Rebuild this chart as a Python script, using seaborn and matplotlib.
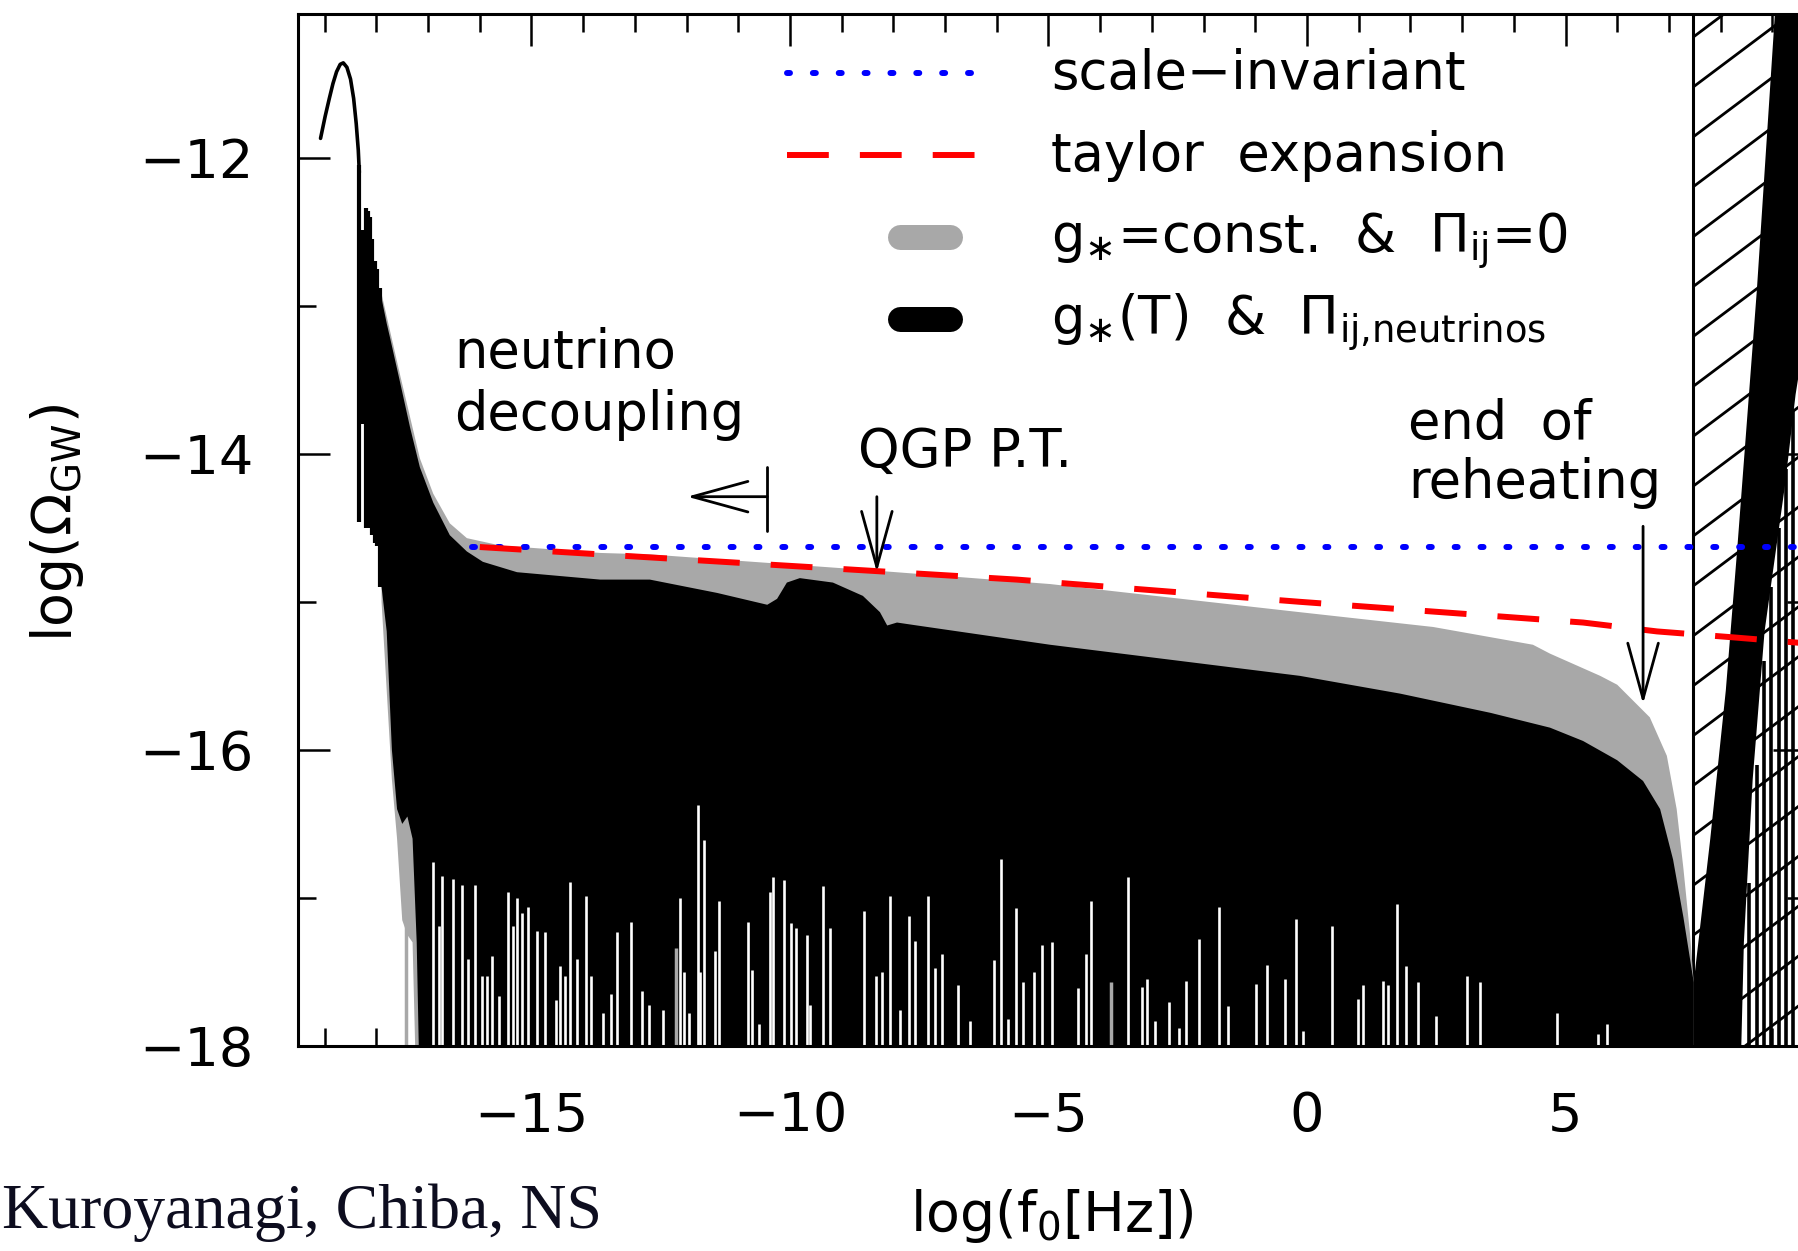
import numpy as np
import matplotlib
matplotlib.use("Agg")
import matplotlib.pyplot as plt
import seaborn as sns
from matplotlib.patches import FancyArrowPatch
from matplotlib.ticker import MultipleLocator

sns.set_theme(style="ticks")
plt.rcParams["font.family"] = ["DejaVu Sans"]
plt.rcParams["mathtext.default"] = "regular"
plt.rcParams["text.color"] = "black"
plt.rcParams["axes.labelcolor"] = "black"

# ---------------- data (log10 f [Hz], log10 Omega_GW) ----------------
# low-frequency peak of the spectrum
peak_x = [-19.08, -18.99, -18.91, -18.84, -18.77, -18.70, -18.64, -18.57, -18.50,
          -18.44, -18.39, -18.35, -18.33]
peak_y = [-11.87, -11.72, -11.60, -11.50, -11.42, -11.37, -11.36, -11.39, -11.47,
          -11.60, -11.77, -11.95, -12.10]

# first resolved oscillations after the peak
forest_x = [-18.33, -18.27, -18.20, -18.17, -18.13, -18.08, -18.02, -17.98, -17.93]
forest_top = [-12.05, -12.49, -12.34, -12.36, -12.40, -12.55, -12.70, -12.75, -12.88]
forest_bottom = [-14.46, -13.80, -14.50, -14.50, -14.50, -14.55, -14.60, -14.62, -14.90]

# envelope of g*(T) & Pi_ij (neutrinos)
black_x = [-17.90, -17.80, -17.74, -17.54, -17.35, -17.16, -16.90, -16.58, -16.25, -15.94,
           -15.28, -13.67, -12.71, -11.41, -10.44, -10.25, -10.06, -9.81, -9.17, -8.59,
           -8.26, -8.12, -7.93, -7.54, -4.97, -0.14, 1.80, 3.55, 4.70, 5.34,
           6.00, 6.50, 6.83, 7.08, 7.28, 7.48]
black_top = [-12.95, -13.12, -13.21, -13.52, -13.82, -14.09, -14.33, -14.55, -14.66, -14.73,
             -14.80, -14.85, -14.85, -14.94, -15.02, -14.98, -14.87, -14.84, -14.87, -14.96,
             -15.07, -15.16, -15.14, -15.16, -15.29, -15.50, -15.62, -15.75, -15.85, -15.94,
             -16.07, -16.21, -16.40, -16.74, -17.13, -17.57]
black_low_x = [-17.90, -17.80, -17.70, -17.60, -17.50, -17.40, -17.30, -17.22, -17.18]
black_low_y = [-14.90, -15.20, -16.00, -16.40, -16.50, -16.45, -16.60, -17.30, -18.00]

# envelope of g* = const. & Pi_ij = 0
gray_x = [-17.90, -17.54, -17.16, -16.90, -16.58, -16.25, -15.60, -13.67, -12.71, -8.32,
          -4.97, -0.14, 2.44, 4.37, 4.70, 5.67, 6.00, 6.63, 6.96, 7.15,
          7.28, 7.41, 7.48]
gray_top = [-12.92, -13.47, -14.03, -14.27, -14.47, -14.57, -14.62, -14.67, -14.68, -14.79,
            -14.88, -15.07, -15.17, -15.29, -15.35, -15.50, -15.56, -15.78, -16.04, -16.40,
            -16.80, -17.25, -17.57]
gray_low_x = [-17.90, -17.70, -17.60, -17.50, -17.40, -17.30, -17.25]
gray_low_y = [-15.00, -16.20, -16.60, -17.15, -17.25, -17.30, -18.00]

# rise above the reheating frequency
wedge_x = [7.48, 7.80, 8.10, 8.32, 8.70, 9.05, 9.632, 9.632, 9.45, 9.25, 8.85, 8.62, 8.45, 8.40, 7.48]
wedge_y = [-17.57, -16.60, -15.60, -14.65, -12.90, -11.03, -11.03, -13.20, -13.60, -14.20,
           -15.20, -16.20, -17.30, -18.00, -18.00]
right_x = [8.55, 8.70, 8.84, 8.98, 9.12, 9.26, 9.40, 9.54]
right_top = [-16.90, -16.10, -15.40, -14.90, -14.50, -14.10, -13.70, -13.40]

# deep troughs of the oscillations
spike_x = [-16.91, -16.79, -16.73, -16.52, -16.34, -16.23, -16.09, -15.96, -15.86, -15.76,
           -15.63, -15.45, -15.36, -15.28, -15.18, -15.07, -14.89, -14.74, -14.53, -14.45,
           -14.35, -14.26, -14.12, -13.95, -13.85,
           -13.62, -13.46, -13.35, -13.08, -12.86, -12.73, -12.46, -12.13, -12.05, -11.96,
           -11.78, -11.74, -11.66, -11.45, -11.37, -10.81, -10.74, -10.60, -10.39, -10.33,
           -10.12, -9.98, -9.89, -9.67, -9.61, -9.36, -9.23, -8.57, -8.34, -8.22,
           -8.07, -7.87, -7.70, -7.58, -7.33, -7.20, -7.06, -6.75, -6.52, -6.05,
           -5.92, -5.78, -5.63, -5.49, -5.28, -5.13, -4.93, -4.43, -4.27, -4.18,
           -3.46, -3.19, -3.09, -2.94, -2.67, -2.48, -2.34, -2.09,
           -1.70, -1.53, -0.99, -0.77, -0.43, -0.21, -0.08, 0.48, 0.99, 1.08,
           1.47, 1.57, 1.74, 1.91, 2.15, 2.50, 3.09, 3.35, 4.84, 5.63, 5.80]
spike_top = [-16.76, -17.19, -16.85, -16.87, -16.91, -17.41, -16.91, -17.53, -17.53, -17.39,
             -17.66, -16.96, -17.19, -17.00, -17.10, -17.06, -17.22, -17.23, -17.69, -17.46,
             -17.53, -16.89, -17.41, -16.99, -17.53,
             -17.78, -17.65, -17.23, -17.16, -17.63, -17.72, -17.76, -17.00, -17.50, -17.78,
             -16.37, -17.50, -16.61, -17.36, -17.02, -17.16, -17.49, -17.85, -16.96, -16.86,
             -16.88, -17.17, -17.20, -17.25, -17.72, -16.92, -17.20, -17.09, -17.53, -17.50,
             -16.99, -17.76, -17.12, -17.29, -16.99, -17.47, -17.38, -17.59, -17.83, -17.42,
             -16.74, -17.82, -17.07, -17.57, -17.50, -17.32, -17.30, -17.61, -17.38, -17.02,
             -16.86, -17.60, -17.55, -17.83, -17.70, -17.88, -17.56, -17.28,
             -17.06, -17.73, -17.58, -17.45, -17.55, -17.14, -17.90, -17.19, -17.68, -17.59,
             -17.56, -17.59, -17.04, -17.46, -17.57, -17.80, -17.53, -17.57, -17.78, -17.92, -17.85]
gray_spike_x = [-17.43, -12.20, -3.79]
gray_spike_top = [-17.10, -17.34, -17.57]

# analytic approximations
flat_x = [-16.15, 9.632]
flat_y = [-14.63, -14.63]
taylor_x = [-16.00, -12.71, -8.45, -5.61, -0.14, 5.34, 6.77, 8.24, 9.632]
taylor_y = [-14.63, -14.70, -14.79, -14.85, -15.00, -15.14, -15.20, -15.24, -15.28]

reheat_cut = 7.47

legend_labels = ["scale\u2212invariant", "taylor  expansion",
                 "g$_{\\ast}$=const.  &  \u03a0$_{ij}$=0",
                 "g$_{\\ast}$(T)  &  \u03a0$_{ij{,}neutrinos}$"]

GRAY = "#a8a8a8"

# ---------------- figure ----------------
fig = plt.figure(figsize=(17.98, 12.51), dpi=100)
ax = fig.add_axes([0.16574, 0.16387, 0.83815, 0.82494])
ax.set_xlim(-19.516, 9.632)
ax.set_ylim(-18.0, -11.03)

# excluded region above the reheating frequency
hatch_slope = 0.262
for c in np.arange(-18.6, -10.9, 0.337):
    ax.plot([reheat_cut, 9.632], [c, c + hatch_slope * (9.632 - reheat_cut)],
            color="black", lw=2.0, zorder=1, solid_capstyle="butt")
ax.axvline(reheat_cut, color="black", lw=2.2, zorder=1)

# filled envelopes
gx = gray_x + [7.48] + gray_low_x[::-1]
gy = gray_top + [-18.0] + gray_low_y[::-1]
ax.fill(gx, gy, color=GRAY, lw=0, zorder=2)
bx = black_x + [7.48] + black_low_x[::-1]
by = black_top + [-18.0] + black_low_y[::-1]
ax.fill(bx, by, color="black", lw=0, zorder=3)
ax.fill(wedge_x, wedge_y, color="black", lw=0, zorder=3)
ax.vlines(forest_x, forest_bottom, forest_top, color="black", lw=3.0, zorder=3)
ax.vlines(right_x, -18.0, right_top, color="black", lw=2.6, zorder=3)

ax.vlines(spike_x, -18.0, spike_top, color="white", lw=1.9, zorder=4)
ax.vlines(gray_spike_x, -18.0, gray_spike_top, color=GRAY, lw=2.5, zorder=4)

sns.lineplot(x=peak_x, y=peak_y, ax=ax, color="black", lw=2.6, sort=False,
             estimator=None, zorder=4)
sns.lineplot(x=flat_x, y=flat_y, ax=ax, color="#0000ff", lw=4.3, sort=False,
             estimator=None, linestyle=(0, (0.5, 3.83)), dash_capstyle="round", zorder=6)
sns.lineplot(x=taylor_x, y=taylor_y, ax=ax, color="#ff0000", lw=4.3, sort=False,
             estimator=None, linestyle=(0, (7.0, 5.2)), zorder=6)

# annotations
arrow_style = "->,head_length=4.0,head_width=1.1"
def arrow(p0, p1):
    ax.add_patch(FancyArrowPatch(p0, p1, arrowstyle=arrow_style, mutation_scale=10,
                                 lw=2.0, color="black", shrinkA=0, shrinkB=0, zorder=7))

ax.plot([-10.44, -10.44], [-14.09, -14.52], color="black", lw=2.0, zorder=7)
arrow((-10.44, -14.29), (-11.99, -14.29))
arrow((-8.32, -14.29), (-8.32, -14.80))
arrow((6.50, -14.49), (6.50, -15.69))

TXT = 38
ax.text(-16.5, -13.42, "neutrino", fontsize=TXT, va="baseline", ha="left", zorder=8)
ax.text(-16.5, -13.84, "decoupling", fontsize=TXT, va="baseline", ha="left", zorder=8)
ax.text(-8.68, -14.09, "QGP P.T.", fontsize=TXT, va="baseline", ha="left", zorder=8)
ax.text(1.96, -13.90, "end  of", fontsize=TXT, va="baseline", ha="left", zorder=8)
ax.text(1.96, -14.30, "reheating", fontsize=TXT, va="baseline", ha="left", zorder=8)

# key
tr = ax.transAxes
ax.plot([0.3245, 0.4492], [0.9428, 0.9428], transform=tr, color="#0000ff", lw=4.3,
        linestyle=(0, (0.5, 3.83)), dash_capstyle="round", zorder=8)
ax.plot([0.3245, 0.4492], [0.8634, 0.8634], transform=tr, color="#ff0000", lw=4.3,
        linestyle=(0, (7.0, 5.2)), zorder=8)
ax.plot([0.3992, 0.4324], [0.7839, 0.7839], transform=tr, color=GRAY, lw=18,
        solid_capstyle="round", zorder=8)
ax.plot([0.3992, 0.4324], [0.7045, 0.7045], transform=tr, color="black", lw=18,
        solid_capstyle="round", zorder=8)
for lab, yb in zip(legend_labels, [0.927, 0.8475, 0.768, 0.6885]):
    ax.text(0.4997, yb, lab, transform=tr, fontsize=TXT, va="baseline", ha="left", zorder=8)

# axes styling
ax.xaxis.set_major_locator(MultipleLocator(5))
ax.xaxis.set_minor_locator(MultipleLocator(1))
ax.yaxis.set_major_locator(MultipleLocator(2))
ax.yaxis.set_minor_locator(MultipleLocator(1))
ax.tick_params(which="both", direction="in", top=True, right=True, colors="black",
               labelsize=39, pad=32)
ax.tick_params(which="major", length=23, width=1.8)
ax.tick_params(which="minor", length=13, width=1.8)
for s in ax.spines.values():
    s.set_color("black")
    s.set_linewidth(2.2)
    s.set_zorder(9)

ax.set_xlabel(r"log(f$_0$[Hz])", fontsize=40)
ax.set_ylabel(r"log($\Omega_{GW}$)", fontsize=40)
ax.xaxis.set_label_coords(0.5003, -0.1366)
ax.yaxis.set_label_coords(-0.1407, 0.507)

fig.text(0.001, 0.0184, "Kuroyanagi, Chiba, NS", fontsize=46, family="Liberation Serif",
         color="#0d0d1f", va="baseline", ha="left")

fig.savefig("out.png", dpi=100)
